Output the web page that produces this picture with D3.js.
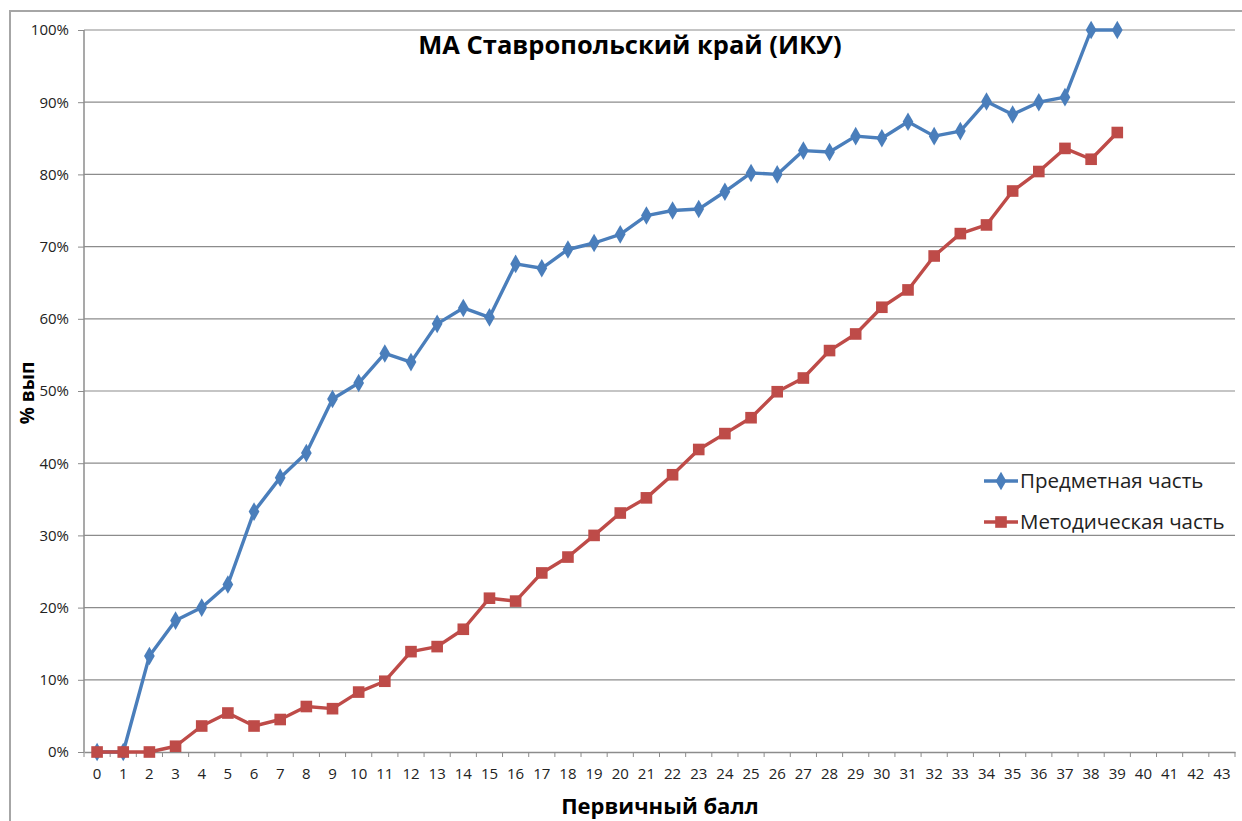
<!DOCTYPE html>
<html>
<head>
<meta charset="utf-8">
<script src="https://cdn.jsdelivr.net/npm/d3@7"></script>
<style>
  body { margin: 0; background: #fff; }
  svg { display: block; font-family: "Open Sans", "DejaVu Sans", sans-serif; }
  .axis path, .axis line { stroke: #8c8c8c; }
</style>
</head>
<body>
<div id="chart"></div>
<script>
// Constants
const width = 1242;
const height = 821;
const margin = { top: 30, right: 7, bottom: 69, left: 84 };

// Data
const scores = d3.range(0, 44).map(String);
const yTicks = [0, 0.1, 0.2, 0.3, 0.4, 0.5, 0.6, 0.7, 0.8, 0.9, 1];
const subjectPart = [
  0, 0, 0.133, 0.182, 0.2, 0.232, 0.333, 0.38, 0.414, 0.489,
  0.511, 0.552, 0.54, 0.593, 0.615, 0.602, 0.676, 0.67, 0.696, 0.705,
  0.717, 0.743, 0.75, 0.752, 0.776, 0.802, 0.8, 0.833, 0.831, 0.853,
  0.85, 0.873, 0.853, 0.86, 0.901, 0.883, 0.9, 0.907, 1, 1
];
const methodPart = [
  0, 0, 0, 0.008, 0.036, 0.054, 0.036, 0.045, 0.063, 0.06,
  0.083, 0.098, 0.139, 0.146, 0.17, 0.213, 0.209, 0.248, 0.27, 0.3,
  0.331, 0.352, 0.384, 0.419, 0.441, 0.463, 0.499, 0.518, 0.556, 0.579,
  0.616, 0.64, 0.687, 0.718, 0.73, 0.777, 0.804, 0.836, 0.821, 0.858
];
const seriesNames = ["Предметная часть", "Методическая часть"];
const seriesColors = ["#4a7ebb", "#be4b48"];

const series = [
  { name: seriesNames[0], color: seriesColors[0], values: subjectPart, symbol: d3.symbolDiamond, size: 100 },
  { name: seriesNames[1], color: seriesColors[1], values: methodPart, symbol: d3.symbolSquare, size: 135 }
];

// SVG
const svg = d3.select("#chart")
  .append("svg")
  .attr("width", width)
  .attr("height", height);

// Outer frame
svg.append("rect")
  .attr("x", 10).attr("y", 11)
  .attr("width", width).attr("height", height)
  .attr("fill", "none")
  .attr("stroke", "#a6a6a6")
  .attr("stroke-width", 2);

//-----------------------------SCALES-----------------------------//
const x = d3.scaleBand()
  .domain(scores)
  .range([margin.left, width - margin.right])
  .padding(0);

const y = d3.scaleLinear()
  .domain([0, 1])
  .range([height - margin.bottom, margin.top]);

//-----------------------------GRID-----------------------------//
svg.append("g")
  .selectAll("line")
  .data(yTicks.slice(1))
  .enter()
  .append("line")
  .attr("x1", margin.left)
  .attr("x2", width - margin.right)
  .attr("y1", d => y(d))
  .attr("y2", d => y(d))
  .attr("stroke", "#8c8c8c")
  .attr("stroke-width", 1.2);

//-----------------------------AXES-----------------------------//
const yAxis = d3.axisLeft(y)
  .tickValues(yTicks)
  .tickFormat(d3.format(".0%"))
  .tickSize(6)
  .tickPadding(9);

svg.append("g")
  .attr("class", "axis")
  .attr("transform", `translate(${margin.left},0)`)
  .call(yAxis)
  .attr("font-family", "Open Sans")
  .attr("font-size", 15)
  .call(g => g.select(".domain").attr("d", `M0,${y(0)}V${y(1)}`).attr("stroke-width", 1.5))
  .call(g => g.selectAll("text").attr("fill", "#222"));

const xAxis = d3.axisBottom(x).tickSize(0).tickPadding(16);

const xg = svg.append("g")
  .attr("class", "axis")
  .attr("transform", `translate(0,${y(0)})`)
  .call(xAxis)
  .attr("font-family", "Open Sans")
  .attr("font-size", 15);
xg.select(".domain").attr("stroke-width", 1.5);
xg.selectAll("text").attr("fill", "#222");

// tick marks between categories
xg.selectAll(".sep")
  .data(scores.concat(["end"]))
  .enter()
  .append("line")
  .attr("class", "sep")
  .attr("x1", (d, i) => margin.left + i * x.bandwidth())
  .attr("x2", (d, i) => margin.left + i * x.bandwidth())
  .attr("y1", 0)
  .attr("y2", 5);

//-----------------------------LINES----------------------------//
const line = d3.line()
  .x((d, i) => x(scores[i]) + x.bandwidth() / 2)
  .y(d => y(d));

const groups = svg.selectAll(".series")
  .data(series)
  .enter()
  .append("g")
  .attr("class", "series");

groups.append("path")
  .attr("d", d => line(d.values))
  .attr("fill", "none")
  .attr("stroke", d => d.color)
  .attr("stroke-width", 3.4)
  .attr("stroke-linejoin", "round");

groups.each(function (s) {
  d3.select(this)
    .selectAll("path.point")
    .data(s.values)
    .enter()
    .append("path")
    .attr("class", "point")
    .attr("d", d3.symbol().type(s.symbol).size(s.size))
    .attr("transform", (d, i) => `translate(${x(scores[i]) + x.bandwidth() / 2},${y(d)})`)
    .attr("fill", s.color);
});

//-----------------------------TEXT-----------------------------//
svg.append("text")
  .attr("x", 630)
  .attr("y", 54)
  .attr("text-anchor", "middle")
  .style("font-size", "25.5px")
  .style("font-weight", "bold")
  .text("МА Ставропольский край (ИКУ)");

svg.append("text")
  .attr("transform", "translate(34,393) rotate(-90)")
  .attr("text-anchor", "middle")
  .style("font-size", "19px")
  .style("font-weight", "bold")
  .text("% вып");

svg.append("text")
  .attr("x", 660)
  .attr("y", 814)
  .attr("text-anchor", "middle")
  .style("font-size", "22px")
  .style("font-weight", "bold")
  .text("Первичный балл");

//-----------------------------LEGEND----------------------------//
const legend = svg.selectAll(".legend")
  .data(series)
  .enter()
  .append("g")
  .attr("class", "legend")
  .attr("transform", (d, i) => `translate(984,${481 + i * 41})`);

legend.append("line")
  .attr("x1", 0).attr("x2", 34)
  .attr("stroke", d => d.color)
  .attr("stroke-width", 3.4);

legend.append("path")
  .attr("d", d => d3.symbol().type(d.symbol).size(d.size)())
  .attr("transform", "translate(17,0)")
  .attr("fill", d => d.color);

legend.append("text")
  .attr("x", 36)
  .attr("dy", "0.35em")
  .style("font-size", "20.5px")
  .style("fill", "#222")
  .text(d => d.name);
</script>
</body>
</html>
